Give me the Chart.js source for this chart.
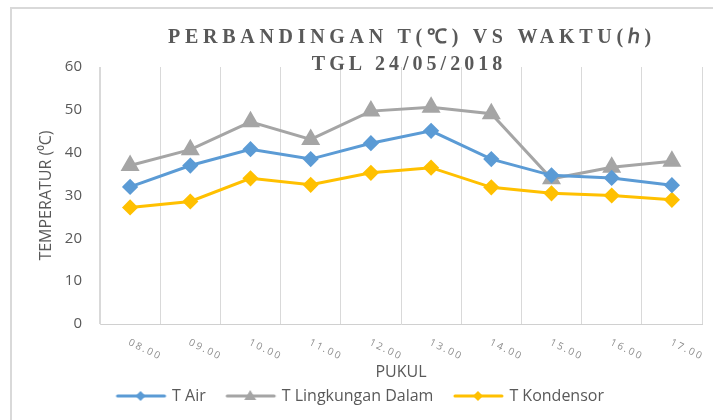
<!DOCTYPE html>
<html>
<head>
<meta charset="utf-8">
<script src="https://cdn.jsdelivr.net/npm/chart.js@4.4.1/dist/chart.umd.min.js"></script>
<style>
    html, body { margin: 0; padding: 0; background: #fff; }
    #wrap { width: 713px; height: 420px; }
</style>
</head>
<body>
<div id="wrap"><canvas id="myChart" width="713" height="420"></canvas></div>
<script>
const hours = ['08.00', '09.00', '10.00', '11.00', '12.00', '13.00', '14.00', '15.00', '16.00', '17.00'];
const tAir = [32.0, 37.0, 40.8, 38.5, 42.2, 45.1, 38.5, 34.7, 34.1, 32.4];
const tLingkungan = [37.0, 40.7, 47.2, 43.1, 49.7, 50.6, 49.1, 33.9, 36.6, 38.0];
const tKondensor = [27.2, 28.6, 34.0, 32.5, 35.3, 36.5, 31.9, 30.5, 30.0, 29.0];
const yTicks = [0, 10, 20, 30, 40, 50, 60];

const titleLines = ['PERBANDINGAN T(\u2103) VS WAKTU(\u210E)', 'TGL 24/05/2018'];
const textGray = '#595959';

// legend icon: line with the marker in the middle
const makeIcon = (color, style) => {
    const c = document.createElement('canvas');
    c.width = 69;
    c.height = 16;
    const g = c.getContext('2d');
    g.strokeStyle = color;
    g.fillStyle = color;
    g.lineWidth = 3;
    g.lineCap = 'round';
    g.beginPath();
    g.moveTo(18, 8);
    g.lineTo(65, 8);
    g.stroke();
    g.beginPath();
    if (style === 'triangle') {
        g.moveTo(41, 2);
        g.lineTo(47, 12);
        g.lineTo(35, 12);
    } else {
        g.moveTo(41, 3);
        g.lineTo(46, 8);
        g.lineTo(41, 13);
        g.lineTo(36, 8);
    }
    g.closePath();
    g.fill();
    return c;
};

const legendIcons = [
    makeIcon('#5B9BD5', 'diamond'),
    makeIcon('#A5A5A5', 'triangle'),
    makeIcon('#FFC000', 'diamond')
];

const framePlugin = {
    id: 'frame',
    beforeDraw(chart) {
        const ctx = chart.ctx;
        ctx.save();
        ctx.fillStyle = '#fff';
        ctx.fillRect(0, 0, chart.width, chart.height);
        ctx.strokeStyle = '#d9d9d9';
        ctx.lineWidth = 2;
        ctx.strokeRect(11, 8, 800, 500);
        ctx.restore();
    }
};

const textPlugin = {
    id: 'texts',
    afterDraw(chart) {
        const ctx = chart.ctx;
        const xScale = chart.scales.x;
        ctx.save();

        // title
        ctx.fillStyle = textGray;
        ctx.font = 'bold 20px "Liberation Serif"';
        ctx.textAlign = 'center';
        ctx.textBaseline = 'alphabetic';
        ctx.letterSpacing = '4.7px';
        ctx.fillText(titleLines[0], 412, 43);
        ctx.letterSpacing = '4px';
        ctx.fillText(titleLines[1], 409, 70);

        // slanted hour labels
        ctx.font = '10px "Open Sans"';
        ctx.letterSpacing = '2px';
        ctx.fillStyle = '#8c8c8c';
        ctx.textAlign = 'left';
        ctx.textBaseline = 'middle';
        hours.forEach((h, i) => {
            const x = xScale.getPixelForValue(i);
            ctx.save();
            ctx.translate(x - 1, 342);
            ctx.rotate(0.45);
            ctx.fillText(h, 0, 0);
            ctx.restore();
        });
        ctx.restore();
    }
};

const ctx = document.getElementById('myChart').getContext('2d');
const myChart = new Chart(ctx, {
    type: 'line',
    data: {
        labels: hours,
        datasets: [{
            label: 'T Air',
            data: tAir,
            borderColor: '#5B9BD5',
            backgroundColor: '#5B9BD5',
            borderWidth: 3,
            pointStyle: 'rectRot',
            pointRadius: 6,
            tension: 0
        }, {
            label: 'T Lingkungan Dalam',
            data: tLingkungan,
            borderColor: '#A5A5A5',
            backgroundColor: '#A5A5A5',
            borderWidth: 3,
            pointStyle: 'triangle',
            pointRadius: 8,
            tension: 0
        }, {
            label: 'T Kondensor',
            data: tKondensor,
            borderColor: '#FFC000',
            backgroundColor: '#FFC000',
            borderWidth: 3,
            pointStyle: 'rectRot',
            pointRadius: 6,
            tension: 0
        }]
    },
    options: {
        responsive: false,
        animation: false,
        layout: {
            padding: { top: 67, right: 5, left: 0, bottom: 6 }
        },
        scales: {
            x: {
                offset: true,
                grid: { offset: true, color: '#d9d9d9', drawTicks: false },
                border: { color: '#d0d0d0' },
                ticks: { display: false },
                title: {
                    display: true,
                    text: 'PUKUL',
                    color: textGray,
                    font: { family: 'Open Sans', size: 16, lineHeight: 1 },
                    padding: { top: 0, bottom: 0 }
                },
                afterFit: scale => { scale.height = 56; }
            },
            y: {
                min: 0,
                max: 60,
                afterBuildTicks: scale => { scale.ticks = yTicks.map(v => ({ value: v })); },
                grid: { display: false, drawTicks: false },
                border: { color: '#d9d9d9' },
                ticks: {
                    color: textGray,
                    padding: 18,
                    font: { family: 'Open Sans', size: 15 }
                },
                title: {
                    display: true,
                    text: 'TEMPERATUR (\u2070C)',
                    color: textGray,
                    font: { family: 'Open Sans', size: 16, lineHeight: 1 },
                    padding: { top: 38, bottom: 0 }
                },
                afterFit: scale => { scale.width = 100; }
            }
        },
        plugins: {
            title: { display: false },
            tooltip: { enabled: false },
            legend: {
                position: 'bottom',
                labels: {
                    usePointStyle: true,
                    pointStyleWidth: 60,
                    padding: 8,
                    color: textGray,
                    font: { family: 'Open Sans', size: 16 },
                    generateLabels(chart) {
                        const items = Chart.defaults.plugins.legend.labels.generateLabels(chart);
                        items.forEach((it, i) => { it.pointStyle = legendIcons[i]; });
                        return items;
                    }
                }
            }
        }
    },
    plugins: [framePlugin, textPlugin]
});
</script>
</body>
</html>
